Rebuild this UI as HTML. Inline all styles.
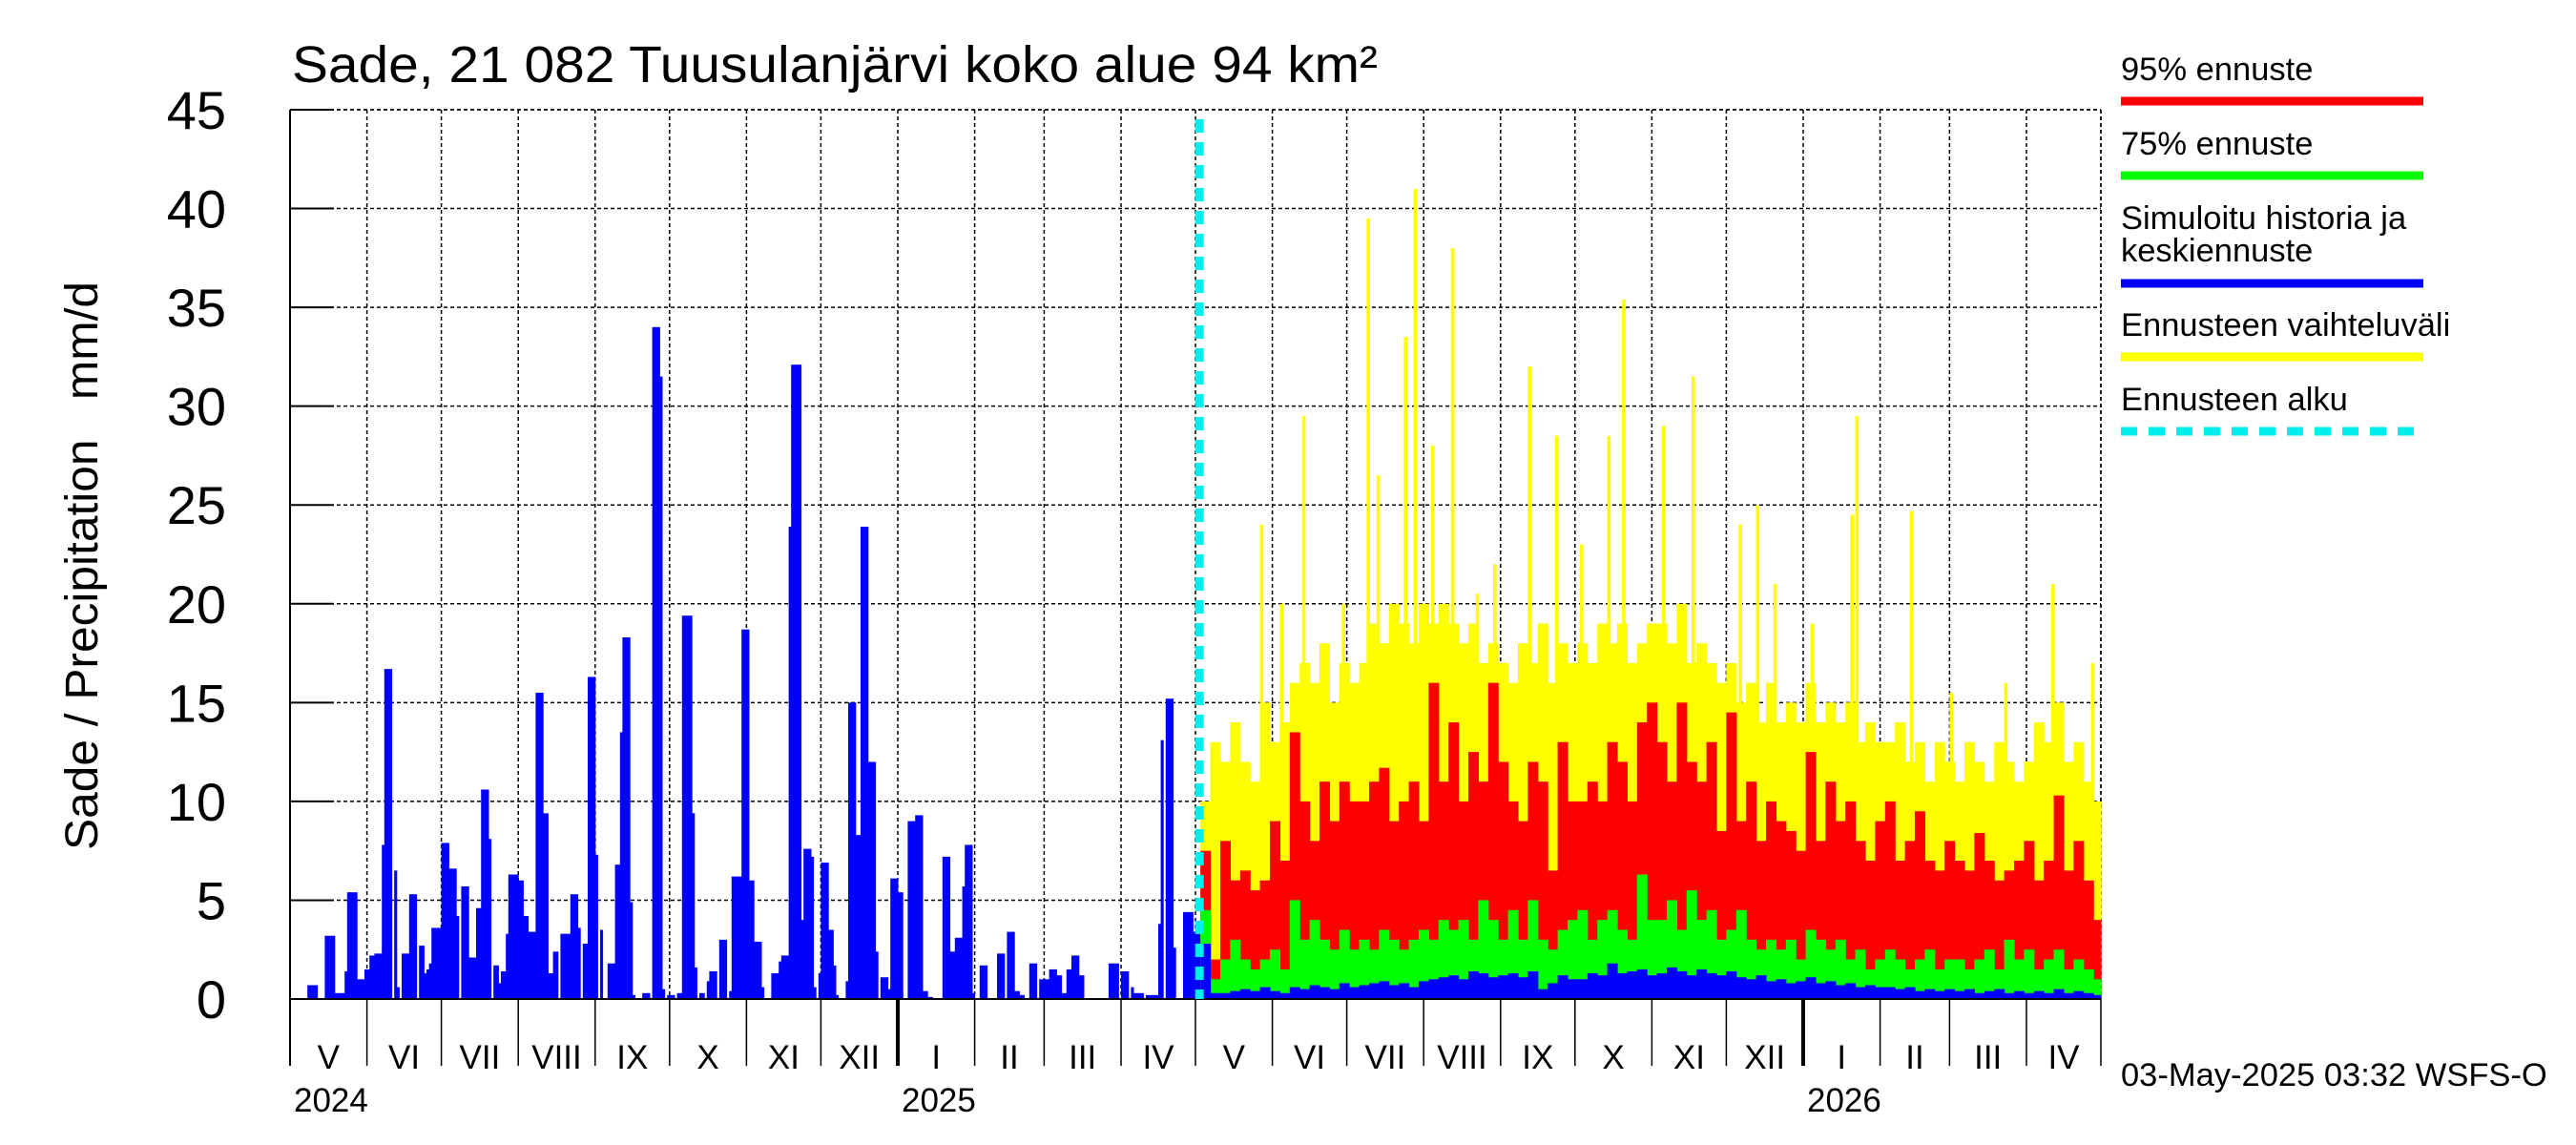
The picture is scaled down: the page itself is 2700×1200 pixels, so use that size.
<!DOCTYPE html>
<html><head><meta charset="utf-8"><style>
html,body{margin:0;padding:0;background:#fff;}
svg{display:block;font-family:"Liberation Sans",sans-serif;}
</style></head><body>
<svg id="chart" width="2700" height="1200" viewBox="0 0 2700 1200" xmlns="http://www.w3.org/2000/svg">
<rect width="2700" height="1200" fill="#fff"/>
<text x="306" y="86" font-size="54" textLength="1138" lengthAdjust="spacingAndGlyphs">Sade, 21 082 Tuusulanjärvi koko alue 94 km²</text>
<text transform="translate(102,593) rotate(-90)" text-anchor="middle" font-size="48" textLength="596" lengthAdjust="spacingAndGlyphs" xml:space="preserve">Sade / Precipitation   mm/d</text>
<g id="grid"></g>
<g id="hist"></g>
<g id="fc"></g>
<g id="axes"></g>
<g font-size="34.5">
<text x="2223" y="84">95% ennuste</text>
<line x1="2223" x2="2540" y1="106" y2="106" stroke="#ff0000" stroke-width="9"/>
<text x="2223" y="162">75% ennuste</text>
<line x1="2223" x2="2540" y1="184" y2="184" stroke="#00ff00" stroke-width="9"/>
<text x="2223" y="240">Simuloitu historia ja</text>
<text x="2223" y="274">keskiennuste</text>
<line x1="2223" x2="2540" y1="297" y2="297" stroke="#0000ff" stroke-width="9"/>
<text x="2223" y="352">Ennusteen vaihteluväli</text>
<line x1="2223" x2="2540" y1="374" y2="374" stroke="#ffff00" stroke-width="9"/>
<text x="2223" y="430">Ennusteen alku</text>
<line x1="2223" x2="2540" y1="452" y2="452" stroke="#00eeee" stroke-width="9" stroke-dasharray="17,12"/>
</g>
<text x="2223" y="1138" font-size="34.5">03-May-2025 03:32 WSFS-O</text>
</svg>
<script>
const yTicks=[0,5,10,15,20,25,30,35,40,45];
const monthBounds=[0,31,61,92,123,153,184,214,245,276,304,335,365,396,426,457,488,518,549,579,610,641,669,700,730];
const monthLabels=["V","VI","VII","VIII","IX","X","XI","XII","I","II","III","IV","V","VI","VII","VIII","IX","X","XI","XII","I","II","III","IV"];
const yearLabels=["2024","2025","2026"];
const yearDays=[0,245,610];
const histStartDay=[7,14,18,22,23,27,30,32,34,37,38,42,43,45,48,52,53,55,56,57,61,64,67,69,72,75,77,80,82,83,85,87,88,92,94,95,99,102,104,106,109,112,113,116,118,120,123,125,128,131,133,134,137,138,142,146,149,150,152,156,158,162,163,165,168,169,173,177,178,182,185,187,190,194,197,198,201,202,206,207,210,211,213,214,217,219,220,224,225,228,230,233,236,238,241,242,245,246,249,252,255,257,263,266,268,271,272,275,278,285,289,292,294,298,302,304,306,309,311,313,315,318,330,335,339,340,345,350,351,353,356,360,364];
const histSpan=[4,4,4,1,4,3,2,2,3,1,3,1,1,3,3,2,2,2,1,4,3,3,1,3,3,2,3,1,2,2,2,1,4,2,2,4,3,2,3,2,4,1,3,1,2,3,1,1,3,2,1,3,1,1,3,3,1,1,3,2,4,1,1,2,2,3,3,1,4,3,2,3,1,3,1,3,1,4,1,3,1,1,1,3,2,1,1,1,3,2,3,3,1,3,1,3,2,1,3,3,2,2,3,2,3,1,3,1,3,3,3,2,2,3,2,2,3,2,2,2,3,2,4,3,1,4,5,1,1,3,1,4,3];
const histValue=[0.7,3.2,0.3,1.4,5.4,1.0,1.5,2.2,2.3,7.8,16.7,6.5,0.6,2.3,5.3,2.7,1.3,1.5,1.8,3.6,7.9,6.6,4.2,5.7,2.1,4.6,10.6,8.1,1.7,0.8,1.4,3.3,6.3,6.0,4.2,3.4,15.5,9.4,1.3,2.4,3.3,2.6,5.3,3.6,2.8,16.3,7.3,3.5,1.8,6.8,13.5,18.3,4.9,0.2,0.3,34,31.5,0.5,0.2,0.3,19.4,9.4,1.6,0.3,0.9,1.4,3.0,0.4,6.2,18.7,6.0,2.9,0.6,1.3,1.9,2.2,23.9,32.1,4.0,7.6,7.2,0.6,1.3,6.9,3.5,1.7,0.2,0.9,15,8.3,23.9,12,2.4,1.1,0.5,6.1,5.4,0.3,9.0,9.3,0.4,0.1,7.2,2.4,3.1,5.7,7.8,0.3,1.7,2.3,3.4,0.4,0.2,1.8,1.0,1.0,1.5,1.2,0.3,1.5,2.2,1.2,1.8,1.4,0.6,0.3,0.2,3.8,13.1,15.2,2.6,4.4,3.4];
const fcStartDay=367;
const fcStepDays=4;
const fcMax=[10,13,12,14,12,11,15,13, 14,16,17,16,18,15,17,16, 17,19,18,20,19,18,20,19, 20,19,18,19,17,18,17, 16,18,17,19,16,18,17, 18,17,19,18,19,17,18,19, 19,18,20,17,18,17,16, 17,15,16,14,16,14,15,14, 16,14,15,14,15,13,14,13, 13,14,12,13,11,13,12, 11,13,12,11,13,12,11,12, 14,13,15,12,13,11,10];
const spikeDay=[391,399,408,424,434,438,449,453,460,468,478,485,499,510,520,531,537,553,565,584,591,598,613,629,631,653,669,691,710,726];
const spikeValue=[24,20,29.5,20,39.5,26.5,33.5,41,28,38,20.5,22,32,28.5,23,28.5,35.4,29,31.5,24,25,21,19,24.5,29.5,24.7,15.5,16,21,17];
const fc95=[7.5,2,8,6,6.5,5.5,6,9, 7,13.5,10,8,11,9,11,10, 10,11,11.7,9,10,11,9,16, 11,14,10,12.5,11,16,12, 10,9,12,11,6.5,13,10, 10,11,10,13,12,10,14,15, 13,11,15,12,11,13,8.5, 14.5,9,11,8,10,9,8.5,7.5, 12.5,8,11,9,10,8,7,9, 10,7,8,9.5,7,6.5,8, 7,6.5,8.4,7,6,6.5,7,8, 6,7,10.3,6.5,8,6,4];
const fc75=[4.5,1,2,3,2,1.5,2,2.5, 1.5,5,3,4,3,2.5,3.5,2.5, 3,2.5,3.5,3,2.5,3,3.5,3, 4,3.5,4,3,5,4,3, 4.5,3,5,3,2.5,3.5,4, 4.5,3,4,4.5,3.5,3,6.3,4, 4,5,3.5,5.5,4,4.5,3, 3.5,4.5,3,2.5,3,2.5,3,2, 3.5,3,2.5,3,2,2.5,1.5,2, 2.5,2,1.5,2,2.5,1.5,2, 2,1.5,2,2.5,1.5,3,2,2.5, 1.5,2,2.5,1.5,2,1.5,1];
const fcMean=[2.8,0.3,0.3,0.4,0.5,0.4,0.6,0.4, 0.3,0.6,0.5,0.7,0.6,0.5,0.8,0.6, 0.7,0.8,0.9,0.7,0.8,0.6,0.9,1.0, 1.1,1.2,1.0,1.4,1.3,1.1,1.2, 1.3,1.1,1.4,0.5,0.8,1.2,1.0, 1.0,1.3,1.2,1.8,1.3,1.4,1.5,1.2, 1.3,1.6,1.4,1.2,1.5,1.3,1.2, 1.4,1.1,1.0,1.2,0.9,1.0,0.8,0.9, 1.1,0.8,0.9,0.7,0.8,0.6,0.7,0.6, 0.6,0.5,0.6,0.4,0.5,0.4,0.5, 0.4,0.5,0.3,0.4,0.5,0.3,0.4,0.3, 0.4,0.3,0.5,0.3,0.4,0.3,0.2];

const NS="http://www.w3.org/2000/svg";
const X0=304,PXD=2.6,Y0=1047,YTOP=115,YMAX=45,TOTAL=730;
const xs=d=>X0+Math.min(d,TOTAL)*PXD;
const ys=v=>Y0-v*(Y0-YTOP)/YMAX;
function mk(parent,tag,attrs){const e=document.createElementNS(NS,tag);for(const k in attrs)e.setAttribute(k,attrs[k]);parent.appendChild(e);return e;}
const grid=document.getElementById('grid'),axes=document.getElementById('axes'),hist=document.getElementById('hist'),fc=document.getElementById('fc');
yTicks.forEach(t=>{
  if(t>0){const g=mk(grid,'line',{x1:X0,x2:xs(TOTAL),y1:ys(t),y2:ys(t),stroke:'#000','stroke-width':1.5,'stroke-dasharray':'4,3'});
  
  }
  const tk=mk(axes,'line',{x1:X0,x2:X0+46,y1:ys(t),y2:ys(t),stroke:'#000','stroke-width':2});
  
  
  const tl=mk(axes,'text',{x:237,y:ys(t)+20,'text-anchor':'end','font-size':56});
  tl.textContent=String(t);
  
  
});
monthBounds.forEach((d,i)=>{
  if(i>0){const g=mk(grid,'line',{x1:xs(d),x2:xs(d),y1:YTOP,y2:Y0,stroke:'#000','stroke-width':1.5,'stroke-dasharray':'4,3'});
  
  }
  const isYear=yearDays.indexOf(d)>0;
  const s=mk(axes,'line',{x1:xs(d),x2:xs(d),y1:Y0,y2:1117,stroke:'#000','stroke-width':isYear?4:1.5});
  
  
  if(i<monthLabels.length){const t=mk(axes,'text',{x:(xs(d)+xs(monthBounds[i+1]))/2,y:1120,'text-anchor':'middle','font-size':35});
  t.textContent=monthLabels[i];
  
  }
});
yearLabels.forEach((y,i)=>{const t=mk(axes,'text',{x:xs(yearDays[i])+4,y:1165,'font-size':35});
  t.textContent=y;
  
  });
mk(axes,'line',{x1:X0,x2:X0,y1:YTOP,y2:1117,stroke:'#000','stroke-width':2});
mk(axes,'line',{x1:X0,x2:xs(TOTAL),y1:Y0,y2:Y0,stroke:'#000','stroke-width':2});
mk(grid,'line',{x1:X0,x2:xs(TOTAL),y1:YTOP,y2:YTOP,stroke:'#000','stroke-width':1.5,'stroke-dasharray':'4,3'});
histStartDay.forEach((d,i)=>{const r=mk(hist,'rect',{x:xs(d),y:ys(histValue[i]),width:histSpan[i]*PXD+0.5,height:Y0-ys(histValue[i]),fill:'#0000ff'});
  
  });
spikeDay.forEach((d,i)=>{const r=mk(fc,'rect',{x:xs(d),y:ys(spikeValue[i]),width:PXD+1,height:Y0-ys(spikeValue[i]),fill:'#ffff00'});
  
  });
[[fcMax,'#ffff00','forecast-range-bar'],[fc95,'#ff0000','forecast-95-bar'],[fc75,'#00ff00','forecast-75-bar'],[fcMean,'#0000ff','forecast-mean-bar']].forEach(([arr,col,nm])=>{
  arr.forEach((v,i)=>{const d=fcStartDay+i*fcStepDays;const x1=xs(d),x2=xs(d+fcStepDays);
    const r=mk(fc,'rect',{x:x1,y:ys(v),width:Math.max(0,x2-x1)+0.6,height:Y0-ys(v),fill:col});
    
    });
});
const cl=mk(axes,'line',{x1:xs(fcStartDay)-1,x2:xs(fcStartDay)-1,y1:125,y2:Y0,stroke:'#00eeee','stroke-width':9,'stroke-dasharray':'14,10'});


mk(grid,'line',{x1:xs(TOTAL),x2:xs(TOTAL),y1:YTOP,y2:Y0,stroke:'#000','stroke-width':1.5,'stroke-dasharray':'4,3'});
</script>
</body></html>
